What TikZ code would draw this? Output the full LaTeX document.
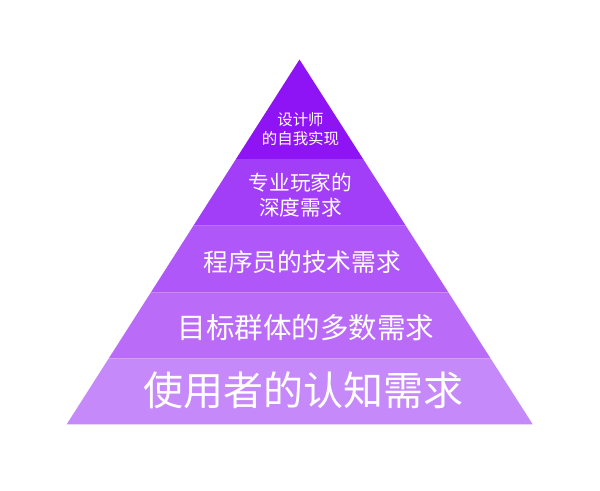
\documentclass[tikz,border=0pt]{standalone}
\usepackage{fontspec}
\newfontfamily\cjk{Noto Sans CJK SC}
\usepackage{xcolor}
\usetikzlibrary{calc}
\definecolor{layerA}{HTML}{8F14F5}
\definecolor{layerB}{HTML}{A23EF8}
\definecolor{layerC}{HTML}{B057F9}
\definecolor{layerD}{HTML}{BA6CF9}
\definecolor{layerE}{HTML}{C689F9}

\begin{document}
\begin{tikzpicture}[
			     x=0.75pt, y=-0.75pt,
			     layer text/.style={text=white, align=center, inner sep=0pt}
			     ]
\useasboundingbox (0,0) rectangle (600,491);
\coordinate (apex) at (299.5,59.5);
\coordinate (bl) at (66.7,424.3);
\coordinate (br) at (532.7,424.3);
\foreach \t [count=\i] in {0.2728,0.4556,0.6382,0.8191} {%
  \coordinate (l-\i) at ($(apex)!\t!(bl)$);
  \coordinate (r-\i) at ($(apex)!\t!(br)$);
}
\fill[layerA] (apex) -- (r-1) -- (l-1) -- cycle;
\fill[layerB] (l-1) -- (r-1) -- (r-2) -- (l-2) -- cycle;
\fill[layerC] (l-2) -- (r-2) -- (r-3) -- (l-3) -- cycle;
\fill[layerD] (l-3) -- (r-3) -- (r-4) -- (l-4) -- cycle;
\fill[layerE] (l-4) -- (r-4) -- (br) -- (bl) -- cycle;
\node[layer text, font=\cjk\fontsize{11.6}{14.3}\selectfont] (designer) at (300.5,129.5) {设计师\\的自我实现};
\node[layer text, font=\cjk\fontsize{15.5}{18.75}\selectfont] (player) at (300.5,195) {专业玩家的\\深度需求};
\node[layer text, font=\cjk\fontsize{18.5}{22}\selectfont] (coder) at (302,262.5) {程序员的技术需求};
\node[layer text, font=\cjk\fontsize{21.4}{25}\selectfont] (group) at (306,327.5) {目标群体的多数需求};
\node[layer text, font=\cjk\fontsize{30}{36}\selectfont] (user) at (303,390) {使用者的认知需求};
\end{tikzpicture}
\end{document}
